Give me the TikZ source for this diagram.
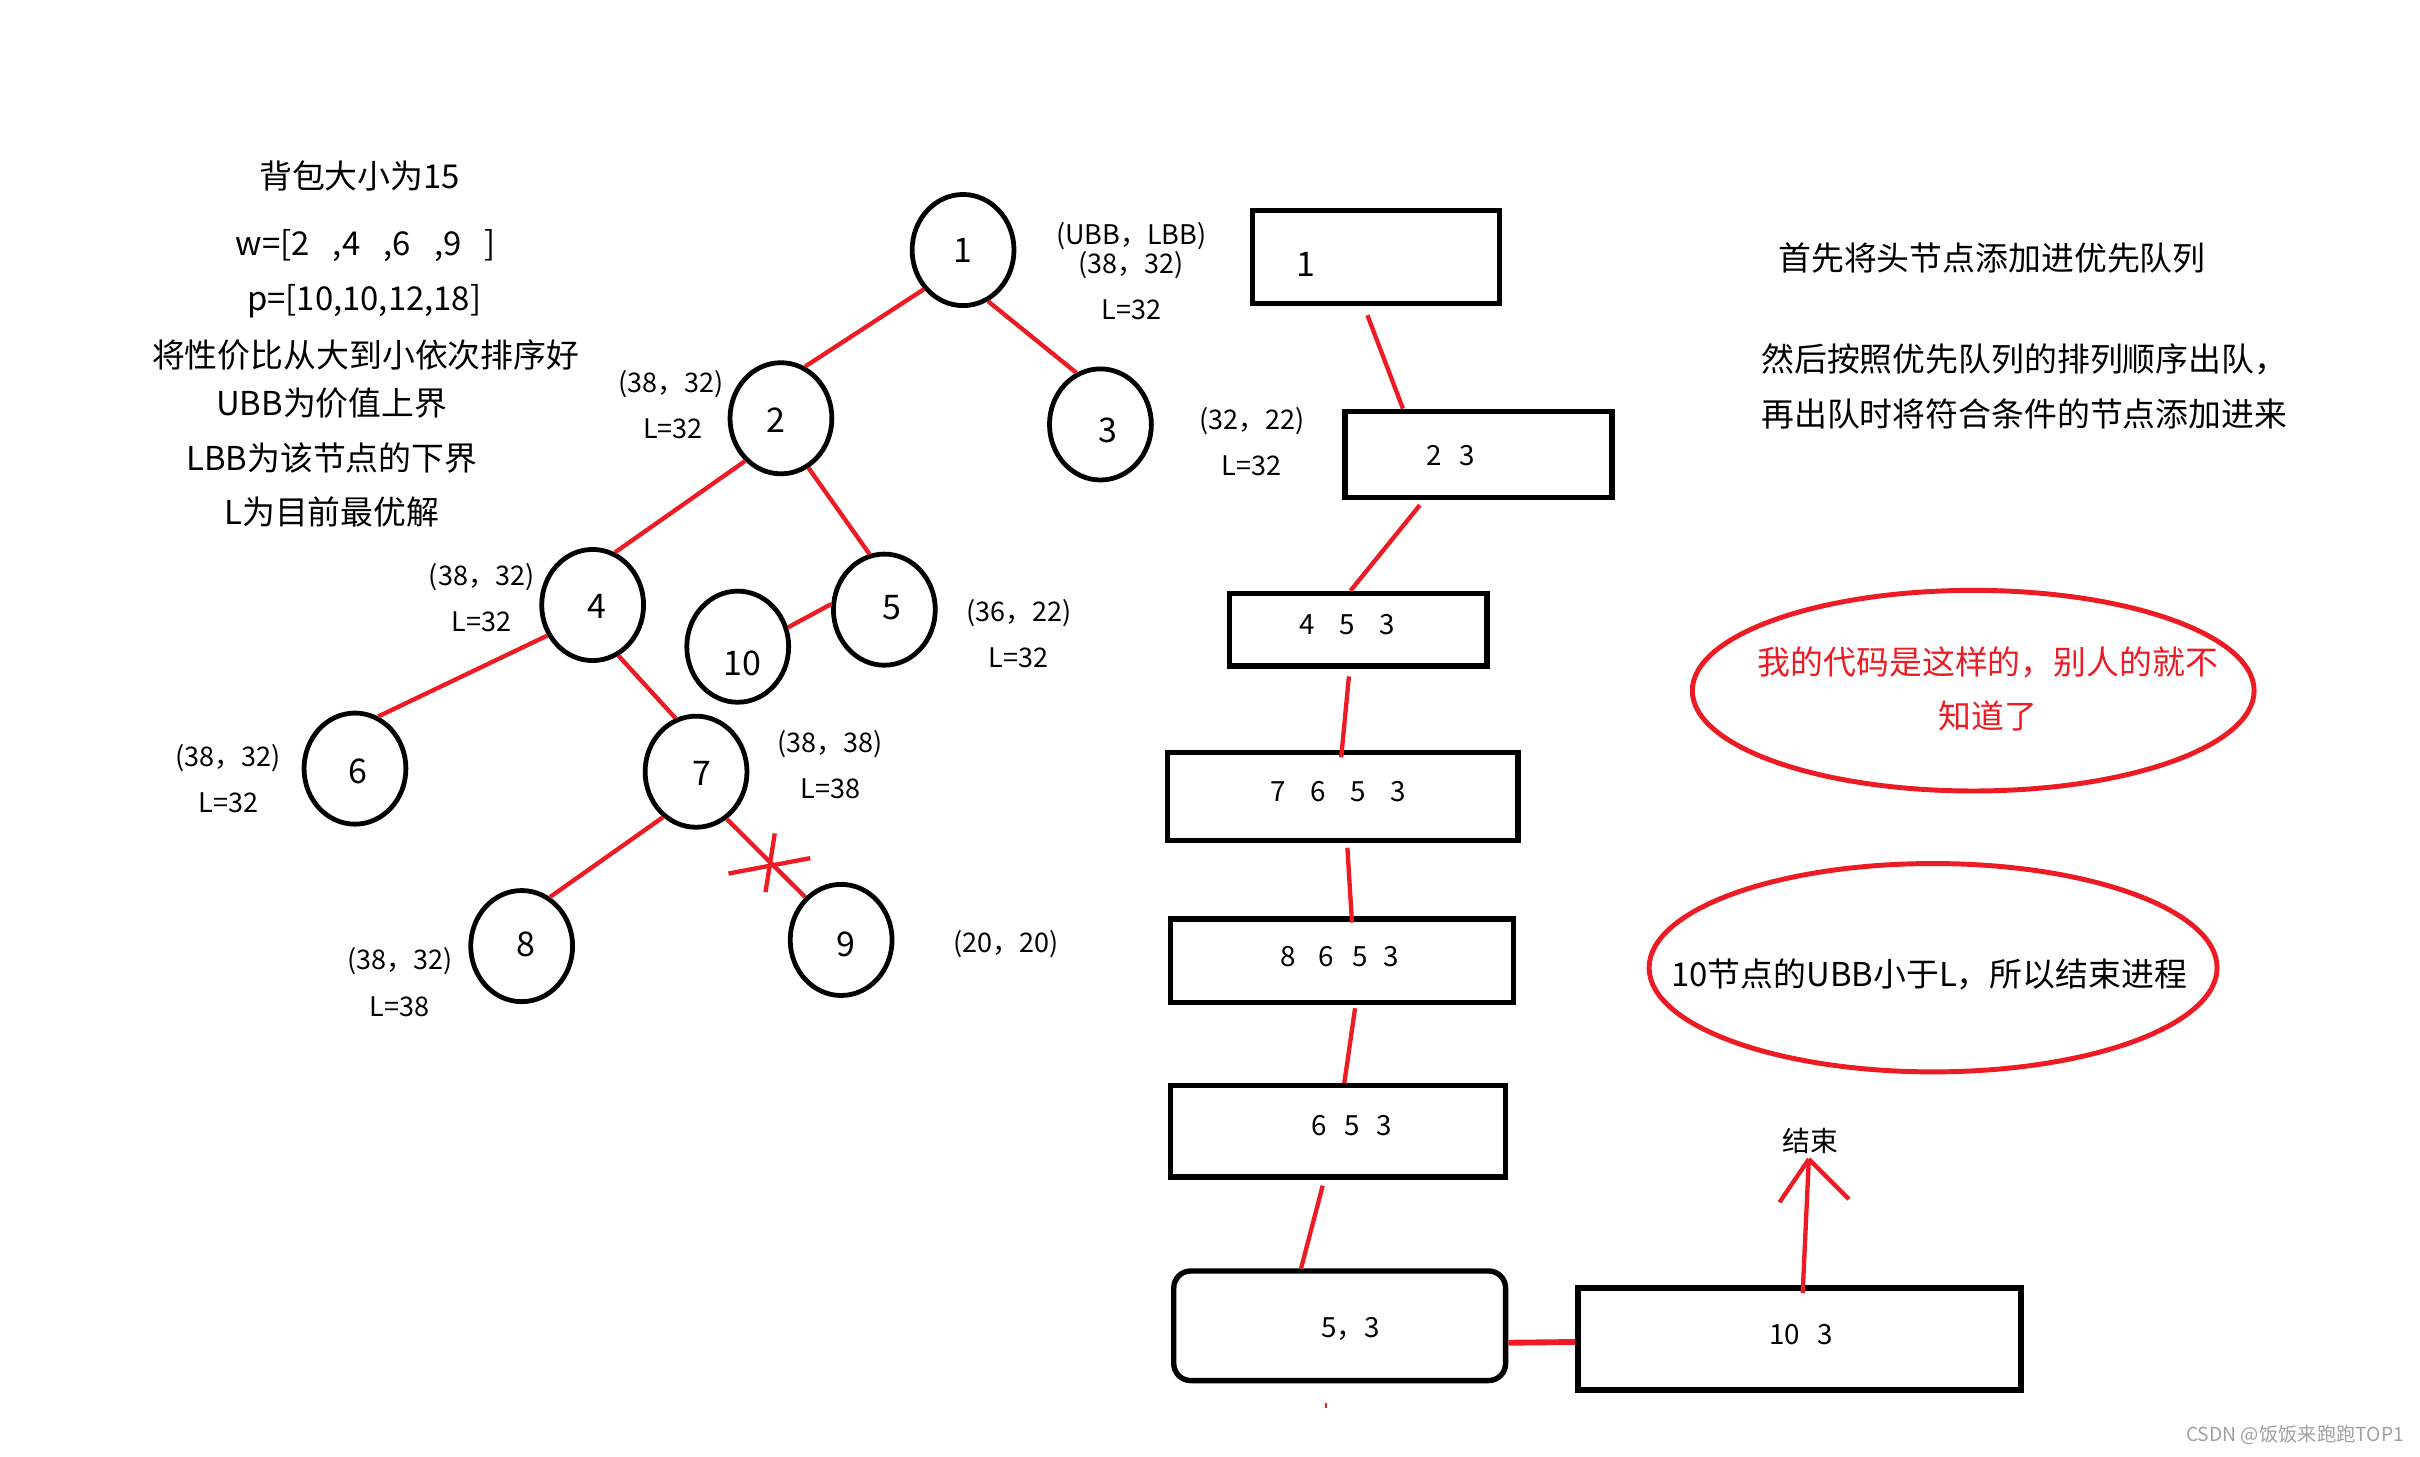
\documentclass[tikz,border=0pt]{standalone}
\usepackage{fontspec}
\setmainfont{Noto Sans CJK SC}
\usetikzlibrary{shapes.geometric}
\definecolor{pred}{RGB}{237,28,36}
\definecolor{wmgray}{RGB}{160,160,160}
\begin{document}
\begin{tikzpicture}[x=1pt,y=-1pt,
  cnode/.style={draw, ellipse, line width=3.1pt, minimum width=66pt, minimum height=72pt, inner sep=0pt},
  qbox/.style={draw, rectangle, line width=3.5pt, inner sep=0pt},
  num/.style={inner sep=0pt, font=\fontsize{22}{24}\selectfont},
  lbl/.style={inner sep=0pt, font=\fontsize{17.5}{20}\selectfont},
  main/.style={inner sep=0pt, font=\fontsize{21.3}{24}\selectfont},
  qtxt/.style={inner sep=0pt, font=\fontsize{18}{20}\selectfont},
  redge/.style={draw=pred, line width=2.8pt},
  redell/.style={draw=pred, ellipse, line width=3.2pt, inner sep=0pt}]
\useasboundingbox (0,0) rectangle (1568,943.4);
% left text block
\node[main] (h1) at (233,114) {背包大小为15};
\node[main] (h2) at (237,159) {w=[2\hspace{15pt},4\hspace{15pt},6\hspace{15pt},9\hspace{15pt}]};
\node[main] (h3) at (236,195) {p=[10,10,12,18]};
\node[main] (h4) at (237,230) {将性价比从大到小依次排序好};
\node[main] (h5) at (215,261) {UBB为价值上界};
\node[main] (h6) at (215,297) {LBB为该节点的下界};
\node[main] (h7) at (215,332) {L为目前最优解};
% tree nodes
\node[cnode] (c1) at (624,162) {};
\node[cnode] (c2) at (506,271) {};
\node[cnode] (c3) at (713,275) {};
\node[cnode] (c4) at (384,392) {};
\node[cnode] (c5) at (573,395) {};
\node[cnode] (c10) at (478,419) {};
\node[cnode] (c6) at (230,498) {};
\node[cnode] (c7) at (451,500) {};
\node[cnode] (c8) at (338,613) {};
\node[cnode] (c9) at (545,609) {};
\node[num] (n1) at (624,162) {1};
\node[num] (n2) at (503,272) {2};
\node[num] (n3) at (718,279) {3};
\node[num] (n4) at (387,393) {4};
\node[num] (n5) at (578,394) {5};
\node[num] (n10) at (481,430) {10};
\node[num] (n6) at (232,500) {6};
\node[num] (n7) at (455,501) {7};
\node[num] (n8) at (341,612) {8};
\node[num] (n9) at (548,612) {9};
% tree edges
\draw[redge] (c1.225) -- (c2.65);
\draw[redge] (c1.296) -- (c3.115);
\draw[redge] (c2.230) -- (c4.67);
\draw[redge] (c2.299) -- (c5.105);
\draw[redge] (c5.174) -- (c10.21);
\draw[redge] (c4.214) -- (c6.66);
\draw[redge] (c4.297) -- (c7.111);
\draw[redge] (c7.234) -- (c8.60);
\draw[redge] (c7.303) -- (c9.130);
% cross mark
\draw[pred, line width=2.8pt] (472,566) -- (525,556);
\draw[pred, line width=2.8pt] (502,540) -- (496,578);
% tree labels
\node[lbl] (l1a) at (733,153) {(UBB，LBB)};
\node[lbl] (l1b) at (733,172) {(38，32)};
\node[lbl] (l1c) at (733,201) {L=32};
\node[lbl] (l2a) at (435,249) {(38，32)};
\node[lbl] (l2b) at (436,278) {L=32};
\node[lbl] (l3a) at (811,273) {(32，22)};
\node[lbl] (l3b) at (811,302) {L=32};
\node[lbl] (l4a) at (312,374) {(38，32)};
\node[lbl] (l4b) at (312,403) {L=32};
\node[lbl] (l5a) at (660,397) {(36，22)};
\node[lbl] (l5b) at (660,426) {L=32};
\node[lbl] (l7a) at (538,482) {(38，38)};
\node[lbl] (l7b) at (538,511) {L=38};
\node[lbl] (l6a) at (148,491) {(38，32)};
\node[lbl] (l6b) at (148,520) {L=32};
\node[lbl] (l8a) at (259,623) {(38，32)};
\node[lbl] (l8b) at (259,652) {L=38};
\node[lbl] (l9a) at (652,612) {(20，20)};
% queue boxes
\node[qbox, minimum width=160pt, minimum height=60pt] (b1) at (891.5,166.5) {};
\node[qbox, minimum width=173pt, minimum height=56pt] (b23) at (958,294.5) {};
\node[qbox, minimum width=167pt, minimum height=47pt] (b453) at (880,408) {};
\node[qbox, minimum width=227pt, minimum height=57pt] (b7653) at (870,516) {};
\node[qbox, minimum width=222pt, minimum height=54pt] (b8653) at (869.5,622.5) {};
\node[qbox, minimum width=217pt, minimum height=59pt] (b653) at (867,733) {};
\node[qbox, rounded corners=11pt, minimum width=215pt, minimum height=71pt] (b53) at (868,859) {};
\node[qbox, minimum width=287pt, minimum height=66pt] (b103) at (1166,867.5) {};
\node[qtxt, font=\fontsize{22}{24}\selectfont] (q1) at (846,171) {1};
\node[qtxt] (q23) at (940,295) {2\hspace{11pt}3};
\node[qtxt] (q453) at (873,405) {4\hspace{16pt}5\hspace{16pt}3};
\node[qtxt] (q7653) at (867,513) {7\hspace{16pt}6\hspace{16pt}5\hspace{16pt}3};
\node[qtxt] (q8653) at (868,620) {8\hspace{15pt}6\hspace{12pt}5\hspace{10pt}3};
\node[qtxt] (q653) at (876,729) {6\hspace{11pt}5\hspace{11pt}3};
\node[qtxt] (q53) at (875,861) {5，3};
\node[qtxt] (q103) at (1167,865) {10\hspace{11pt}3};
% queue connectors
\draw[redge] ([xshift=-5.5pt,yshift=-6pt]b1.south) -- ([xshift=-49pt]b23.north);
\draw[redge] ([xshift=-38pt,yshift=-3pt]b23.south) -- ([xshift=-5pt]b453.north);
\draw[redge] ([xshift=-6pt,yshift=-5pt]b453.south) -- ([xshift=-1pt,yshift=-5pt]b7653.north);
\draw[redge] ([xshift=3pt,yshift=-3pt]b7653.south) -- ([xshift=6.5pt,yshift=-4pt]b8653.north);
\draw[redge] ([xshift=8.5pt,yshift=-2pt]b8653.south) -- ([xshift=4pt]b653.north);
\draw[redge] ([xshift=-10pt,yshift=-4pt]b653.south) -- ([xshift=-25pt]b53.north);
\draw[pred, line width=3.8pt] ([yshift=-11pt]b53.east) -- ([yshift=-2pt]b103.west);
\draw[pred, line width=1.6pt] (859,909) -- (859,912);
% end arrow
\node[inner sep=0pt, font=\fontsize{18}{20}\selectfont] (js) at (1173,739) {结束};
\coordinate (jtip) at (1172,751);
\draw[redge] ([xshift=2pt,yshift=-5pt]b103.north) -- (jtip);
\draw[redge] (jtip) -- ++(-19,28);
\draw[redge] (jtip) -- ++(26,26);
% right texts
\node[main, anchor=west] (r1) at (1152,167) {首先将头节点添加进优先队列};
\node[main, anchor=west] (r2) at (1141,233) {然后按照优先队列的排列顺序出队，};
\node[main, anchor=west] (r3) at (1141,268) {再出队时将符合条件的节点添加进来};
\node[redell, minimum width=364pt, minimum height=130pt] (e1) at (1278.5,447.5) {};
\node[main, text=pred] (e1a) at (1288,429) {我的代码是这样的，别人的就不};
\node[main, text=pred] (e1b) at (1288,464) {知道了};
\node[redell, minimum width=368pt, minimum height=135pt] (e2) at (1252.5,627) {};
\node[main] (e2a) at (1250,631) {10节点的UBB小于L，所以结束进程};
% watermark
\node[inner sep=0pt, text=wmgray, font=\fontsize{12.5}{14}\selectfont] (wm) at (1487,930) {CSDN @饭饭来跑跑TOP1};
\end{tikzpicture}
\end{document}
